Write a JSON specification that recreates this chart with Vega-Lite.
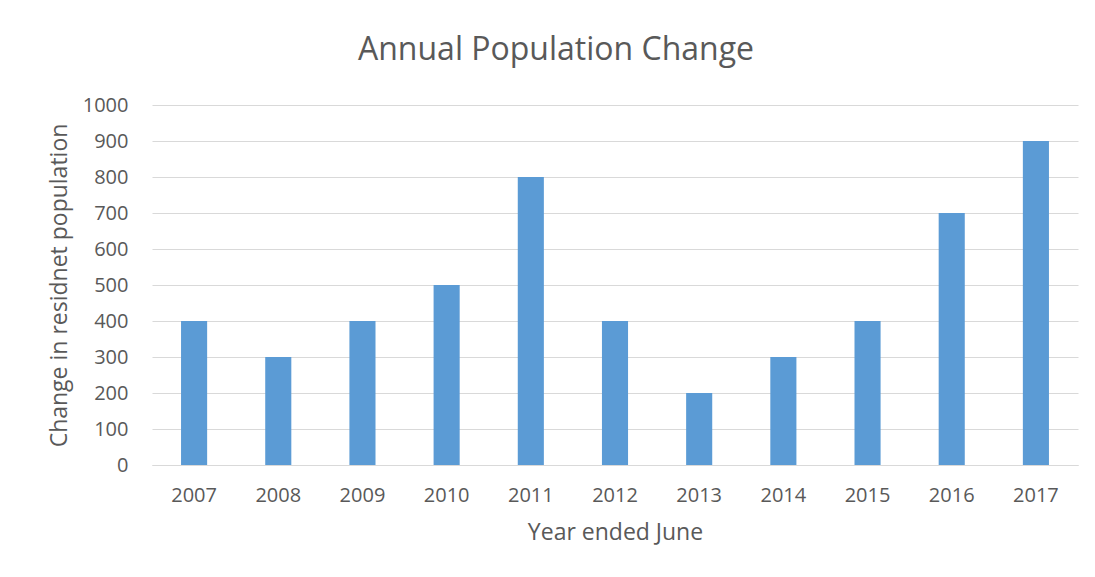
{
  "$schema": "https://vega.github.io/schema/vega-lite/v6.json",
  "autosize": {"type": "none"},
  "width": 926,
  "height": 360,
  "padding": {"left": 152, "top": 105, "right": 17, "bottom": 112},
  "background": "white",
  "title": {
    "text": "Annual Population Change",
    "fontSize": 32,
    "font": "Open Sans",
    "fontWeight": "normal",
    "color": "#595959",
    "offset": 28,
    "dx": -59
  },
  "data": {
    "values": [
      {"year": "2007", "change": 400},
      {"year": "2008", "change": 300},
      {"year": "2009", "change": 400},
      {"year": "2010", "change": 500},
      {"year": "2011", "change": 800},
      {"year": "2012", "change": 400},
      {"year": "2013", "change": 200},
      {"year": "2014", "change": 300},
      {"year": "2015", "change": 400},
      {"year": "2016", "change": 700},
      {"year": "2017", "change": 900}
    ]
  },
  "mark": {"type": "bar", "color": "#5b9bd5"},
  "encoding": {
    "x": {
      "field": "year",
      "type": "ordinal",
      "title": "Year ended June",
      "scale": {"paddingInner": 0.69, "paddingOuter": 0.345},
      "axis": {
        "labelAngle": 0,
        "ticks": false,
        "domainColor": "#d9d9d9",
        "domainWidth": 1,
        "labelPadding": 20,
        "titlePadding": 16
      }
    },
    "y": {
      "field": "change",
      "type": "quantitative",
      "title": "Change in residnet population",
      "scale": {"domain": [0, 1000]},
      "axis": {
        "values": [0, 100, 200, 300, 400, 500, 600, 700, 800, 900, 1000],
        "format": "d",
        "ticks": false,
        "domain": false,
        "gridColor": "#d9d9d9",
        "labelPadding": 24,
        "titlePadding": 11
      }
    }
  },
  "config": {
    "view": {"stroke": null},
    "axis": {
      "labelFont": "Open Sans",
      "labelFontSize": 20,
      "labelColor": "#595959",
      "titleFont": "Open Sans",
      "titleFontSize": 23,
      "titleFontWeight": "normal",
      "titleColor": "#595959"
    }
  }
}
